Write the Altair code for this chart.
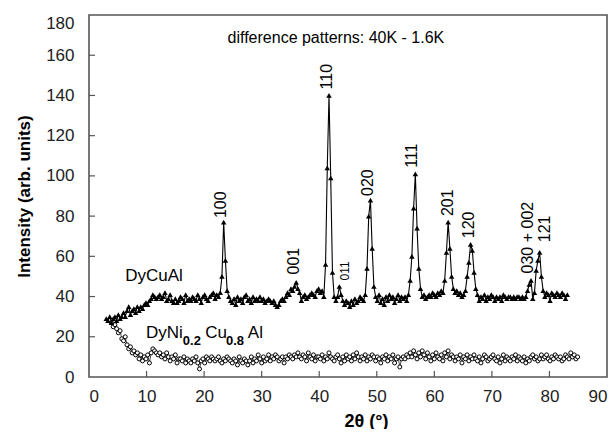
import altair as alt
import pandas as pd

FONT = "Liberation Sans"

# DyCuAl (filled triangles) 2theta grid and intensities
cu_x = [3.0, 3.3, 3.6, 3.9, 4.2, 4.5, 4.8, 5.1, 5.4, 5.7,
        6.0, 6.3, 6.6, 6.9, 7.2, 7.5, 7.8, 8.1, 8.4, 8.7,
        9.0, 9.3, 9.6, 9.9, 10.2, 10.5, 10.8, 11.1, 11.4, 11.7,
        12.0, 12.3, 12.6, 12.9, 13.2, 13.5, 13.8, 14.1, 14.4, 14.7,
        15.0, 15.3, 15.6, 15.9, 16.2, 16.5, 16.8, 17.1, 17.4, 17.7,
        18.0, 18.3, 18.6, 18.9, 19.2, 19.5, 19.8, 20.1, 20.4, 20.7,
        21.0, 21.3, 21.6, 21.9, 22.2, 22.5, 22.8, 23.1, 23.4, 23.7,
        24.0, 24.3, 24.6, 24.9, 25.2, 25.5, 25.8, 26.1, 26.4, 26.7,
        27.0, 27.3, 27.6, 27.9, 28.2, 28.5, 28.8, 29.1, 29.4, 29.7,
        30.0, 30.3, 30.6, 30.9, 31.2, 31.5, 31.8, 32.1, 32.4, 32.7,
        33.0, 33.3, 33.6, 33.9, 34.2, 34.5, 34.8, 35.1, 35.4, 35.7,
        36.0, 36.3, 36.6, 36.9, 37.2, 37.5, 37.8, 38.1, 38.4, 38.7,
        39.0, 39.3, 39.6, 39.9, 40.2, 40.5, 40.8, 41.1, 41.4, 41.7,
        42.0, 42.3, 42.6, 42.9, 43.2, 43.5, 43.8, 44.1, 44.4, 44.7,
        45.0, 45.3, 45.6, 45.9, 46.2, 46.5, 46.8, 47.1, 47.4, 47.7,
        48.0, 48.3, 48.6, 48.9, 49.2, 49.5, 49.8, 50.1, 50.4, 50.7,
        51.0, 51.3, 51.6, 51.9, 52.2, 52.5, 52.8, 53.1, 53.4, 53.7,
        54.0, 54.3, 54.6, 54.9, 55.2, 55.5, 55.8, 56.1, 56.4, 56.7,
        57.0, 57.3, 57.6, 57.9, 58.2, 58.5, 58.8, 59.1, 59.4, 59.7,
        60.0, 60.3, 60.6, 60.9, 61.2, 61.5, 61.8, 62.1, 62.4, 62.7,
        63.0, 63.3, 63.6, 63.9, 64.2, 64.5, 64.8, 65.1, 65.4, 65.7,
        66.0, 66.3, 66.6, 66.9, 67.2, 67.5, 67.8, 68.1, 68.4, 68.7,
        69.0, 69.3, 69.6, 69.9, 70.2, 70.5, 70.8, 71.1, 71.4, 71.7,
        72.0, 72.3, 72.6, 72.9, 73.2, 73.5, 73.8, 74.1, 74.4, 74.7,
        75.0, 75.3, 75.6, 75.9, 76.2, 76.5, 76.8, 77.1, 77.4, 77.7,
        78.0, 78.3, 78.6, 78.9, 79.2, 79.5, 79.8, 80.1, 80.4, 80.7,
        81.0, 81.3, 81.6, 81.9, 82.2, 82.5, 82.8, 83.1]
cu_y = [29, 28, 30, 27, 29, 30, 28, 31, 29, 30,
        32, 30, 33, 35, 31, 33, 34, 32, 35, 33,
        35, 34, 36, 37, 36, 38, 39, 41, 40, 39,
        40, 41, 39, 40, 42, 38, 39, 41, 38, 37,
        39, 37, 38, 40, 39, 37, 41, 38, 39, 38,
        40, 39, 38, 41, 39, 37, 40, 41, 39, 38,
        40, 41, 42, 39, 41, 40, 42, 50, 77, 58,
        43, 40, 38, 37, 39, 36, 40, 38, 39, 37,
        40, 41, 38, 39, 37, 40, 38, 39, 38, 40,
        38, 39, 37, 38, 39, 38, 37, 38, 36, 35,
        36, 38, 39, 38, 40, 42, 41, 44, 43, 45,
        47, 44, 42, 38, 40, 41, 39, 40, 41, 42,
        41, 40, 43, 44, 42, 43, 40, 56, 104, 140,
        99, 52, 40, 38, 40, 45, 41, 38, 36, 38,
        37, 35, 38, 36, 39, 37, 38, 40, 39, 38,
        41, 54, 80, 88, 64, 45, 40, 38, 41, 37,
        39, 36, 40, 38, 41, 39, 40, 37, 39, 41,
        38, 40, 39, 40, 38, 41, 48, 60, 84, 101,
        74, 54, 44, 40, 41, 39, 40, 41, 40, 42,
        41, 40, 42, 41, 43, 42, 48, 62, 77, 64,
        50, 44, 42, 43, 41, 42, 40, 41, 43, 50,
        57, 66, 63, 52, 44, 41, 38, 40, 39, 41,
        38, 40, 39, 41, 40, 38, 40, 39, 40, 38,
        41, 40, 39, 40, 40, 39, 40, 39, 40, 40,
        39, 40, 39, 40, 43, 46, 48, 39, 42, 53,
        58, 62, 50, 43, 40, 42, 41, 38, 42, 41,
        40, 42, 41, 40, 42, 41, 39, 41]

# DyNi0.2Cu0.8Al (open circles)
ni_x = [3.9, 4.2, 4.5, 4.8, 5.1, 5.4, 5.7, 6.0, 6.3, 6.6,
        6.9, 7.2, 7.5, 7.8, 8.1, 8.4, 8.7, 9.0, 9.3, 9.6,
        9.9, 10.2, 10.5, 10.8, 11.1, 11.4, 11.7, 12.0, 12.3, 12.6,
        12.9, 13.2, 13.5, 13.8, 14.1, 14.4, 14.7, 15.0, 15.3, 15.6,
        15.9, 16.2, 16.5, 16.8, 17.1, 17.4, 17.7, 18.0, 18.3, 18.6,
        18.9, 19.2, 19.5, 19.8, 20.1, 20.4, 20.7, 21.0, 21.3, 21.6,
        21.9, 22.2, 22.5, 22.8, 23.1, 23.4, 23.7, 24.0, 24.3, 24.6,
        24.9, 25.2, 25.5, 25.8, 26.1, 26.4, 26.7, 27.0, 27.3, 27.6,
        27.9, 28.2, 28.5, 28.8, 29.1, 29.4, 29.7, 30.0, 30.3, 30.6,
        30.9, 31.2, 31.5, 31.8, 32.1, 32.4, 32.7, 33.0, 33.3, 33.6,
        33.9, 34.2, 34.5, 34.8, 35.1, 35.4, 35.7, 36.0, 36.3, 36.6,
        36.9, 37.2, 37.5, 37.8, 38.1, 38.4, 38.7, 39.0, 39.3, 39.6,
        39.9, 40.2, 40.5, 40.8, 41.1, 41.4, 41.7, 42.0, 42.3, 42.6,
        42.9, 43.2, 43.5, 43.8, 44.1, 44.4, 44.7, 45.0, 45.3, 45.6,
        45.9, 46.2, 46.5, 46.8, 47.1, 47.4, 47.7, 48.0, 48.3, 48.6,
        48.9, 49.2, 49.5, 49.8, 50.1, 50.4, 50.7, 51.0, 51.3, 51.6,
        51.9, 52.2, 52.5, 52.8, 53.1, 53.4, 53.7, 54.0, 54.3, 54.6,
        54.9, 55.2, 55.5, 55.8, 56.1, 56.4, 56.7, 57.0, 57.3, 57.6,
        57.9, 58.2, 58.5, 58.8, 59.1, 59.4, 59.7, 60.0, 60.3, 60.6,
        60.9, 61.2, 61.5, 61.8, 62.1, 62.4, 62.7, 63.0, 63.3, 63.6,
        63.9, 64.2, 64.5, 64.8, 65.1, 65.4, 65.7, 66.0, 66.3, 66.6,
        66.9, 67.2, 67.5, 67.8, 68.1, 68.4, 68.7, 69.0, 69.3, 69.6,
        69.9, 70.2, 70.5, 70.8, 71.1, 71.4, 71.7, 72.0, 72.3, 72.6,
        72.9, 73.2, 73.5, 73.8, 74.1, 74.4, 74.7, 75.0, 75.3, 75.6,
        75.9, 76.2, 76.5, 76.8, 77.1, 77.4, 77.7, 78.0, 78.3, 78.6,
        78.9, 79.2, 79.5, 79.8, 80.1, 80.4, 80.7, 81.0, 81.3, 81.6,
        81.9, 82.2, 82.5, 82.8, 83.1, 83.4, 83.7, 84.0, 84.3, 84.6, 84.9]
ni_y = [27, 25, 26, 24, 22, 23, 19, 18, 20, 16,
        14, 15, 12, 13, 11, 12, 9, 11, 8, 10,
        9, 11, 7, 12, 14, 13, 12, 11, 12, 10,
        11, 9, 12, 10, 8, 10, 9, 11, 7, 9,
        9, 8, 10, 7, 9, 8, 7, 9, 8, 10,
        7, 4, 8, 9, 7, 10, 9, 8, 10, 9,
        8, 9, 10, 8, 7, 9, 8, 10, 9, 8,
        7, 9, 8, 6, 10, 8, 7, 9, 8, 6,
        8, 10, 7, 9, 8, 11, 9, 7, 10, 8,
        9, 11, 8, 10, 9, 11, 10, 8, 9, 10,
        7, 10, 9, 11, 10, 9, 11, 10, 12, 10,
        9, 11, 10, 8, 12, 10, 9, 11, 8, 10,
        10, 9, 11, 8, 10, 9, 12, 10, 9, 8,
        10, 11, 9, 7, 10, 8, 11, 9, 10, 8,
        11, 9, 12, 10, 8, 10, 9, 11, 8, 10,
        9, 11, 10, 8, 10, 9, 7, 10, 9, 11,
        8, 10, 9, 11, 7, 9, 10, 5, 9, 10,
        9, 11, 10, 12, 10, 13, 11, 9, 12, 10,
        13, 11, 9, 12, 10, 8, 11, 9, 12, 10,
        9, 11, 8, 12, 10, 13, 9, 11, 10, 8,
        10, 9, 11, 7, 10, 9, 11, 8, 10, 9,
        11, 9, 8, 10, 7, 9, 11, 10, 8, 9,
        10, 11, 9, 8, 10, 7, 9, 11, 8, 10,
        9, 8, 10, 9, 11, 8, 10, 9, 8, 10,
        7, 9, 8, 10, 11, 9, 10, 8, 9, 11,
        9, 10, 11, 9, 8, 10, 9, 11, 10, 9,
        10, 8, 9, 11, 10, 9, 12, 10, 11, 9, 10]

# Peak (hkl) annotations
peak_labels = ["100", "001", "110", "011", "020", "111", "201", "120", "030 + 002", "121"]
peak_x = [23.0, 35.7, 41.4, 44.4, 48.4, 56.2, 62.3, 66.1, 76.2, 79.2]
peak_y = [79, 51, 143, 48, 90, 104, 80, 69, 51.5, 67]
peak_size = [16, 16, 16, 12, 16, 16, 16, 16, 16, 16]

x_ticks = [0, 10, 20, 30, 40, 50, 60, 70, 80, 90]
y_ticks = [0, 20, 40, 60, 80, 100, 120, 140, 160, 180]

W, H = 518, 362

cu = pd.DataFrame({"x": cu_x, "y": cu_y})
ni = pd.DataFrame({"x": ni_x, "y": ni_y})
pk = pd.DataFrame({"label": peak_labels, "x": peak_x, "y": peak_y, "fs": peak_size})

xs = alt.Scale(domain=[0, 90], nice=False, zero=False)
ys = alt.Scale(domain=[0, 180], nice=False, zero=False)

X = alt.X("x:Q", scale=xs, axis=alt.Axis(
    values=x_ticks, title="2θ (°)", titleFont=FONT, titleFontSize=18, titleFontWeight="bold",
    titleColor="black", titlePadding=8, titleX=277,
    labelFont=FONT, labelFontSize=17, labelColor="#222", labelPadding=11,
    ticks=False, domain=False, grid=False))
Y = alt.Y("y:Q", scale=ys, axis=alt.Axis(
    values=y_ticks, title="Intensity (arb. units)", titleFont=FONT, titleFontSize=17,
    titleFontWeight="bold", titleColor="black", titlePadding=12,
    labelFont=FONT, labelFontSize=17, labelColor="#222", labelPadding=15,
    labelBaseline={"condition": {"test": "datum.value == 180", "value": "top"}, "value": "middle"},
    ticks=False, domain=False, grid=False))

ni_line = alt.Chart(ni).mark_line(color="black", strokeWidth=0.7).encode(x=X, y=Y)
ni_pts = alt.Chart(ni).mark_point(shape="circle", filled=False, color="black", fill="white",
                                  size=16, strokeWidth=1, opacity=1).encode(x=X, y=Y)
cu_line = alt.Chart(cu).mark_line(color="black", strokeWidth=1.1).encode(x=X, y=Y)
cu_pts = alt.Chart(cu).mark_point(shape="triangle-up", filled=True, color="black",
                                  size=30, opacity=1).encode(x=X, y=Y)

xt = pd.DataFrame({"x": x_ticks[1:-1]})
yt = pd.DataFrame({"y": y_ticks[1:-1]})
xtick = alt.Chart(xt).mark_rule(color="#555", strokeWidth=1.2).encode(
    x=X, y=alt.value(H), y2=alt.value(H - 6))
ytick = alt.Chart(yt).mark_rule(color="#555", strokeWidth=1.2).encode(
    y=Y, x=alt.value(0), x2=alt.value(6))

peaks = alt.Chart(pk).mark_text(font=FONT, angle=270, align="left", baseline="middle",
                                color="black").encode(
    x=X, y=Y, text="label:N", size=alt.Size("fs:Q", scale=None))

def txt(t, x, y, size, weight="normal", align="left"):
    d = pd.DataFrame({"x": [x], "y": [y], "t": [t]})
    return alt.Chart(d).mark_text(font=FONT, fontSize=size, fontWeight=weight, align=align,
                                  baseline="middle", color="black").encode(x=X, y=Y, text="t:N")

title_t = txt("difference patterns: 40K - 1.6K", 42.9, 168.6, 16, align="center")
cu_lab = txt("DyCuAl", 6.3, 50, 17)
ni1 = txt("DyNi", 9.9, 21.8, 17)
ni2 = txt("0.2", 16.3, 18.0, 13, "bold")
ni3 = txt("Cu", 20.2, 21.8, 17)
ni4 = txt("0.8", 23.8, 18.0, 13, "bold")
ni5 = txt("Al", 27.6, 21.8, 17)

chart = alt.layer(
    ni_line, ni_pts, cu_line, cu_pts, xtick, ytick, peaks,
    title_t, cu_lab, ni1, ni2, ni3, ni4, ni5
).properties(
    width=W, height=H,
    autosize=alt.AutoSizeParams(type="none"),
    padding={"left": 81, "top": 7, "right": 1, "bottom": 52},
    background="white"
).configure_view(stroke="#555", strokeWidth=1.6)

chart.save("out.html", embed_options={"renderer": "svg", "actions": False})
